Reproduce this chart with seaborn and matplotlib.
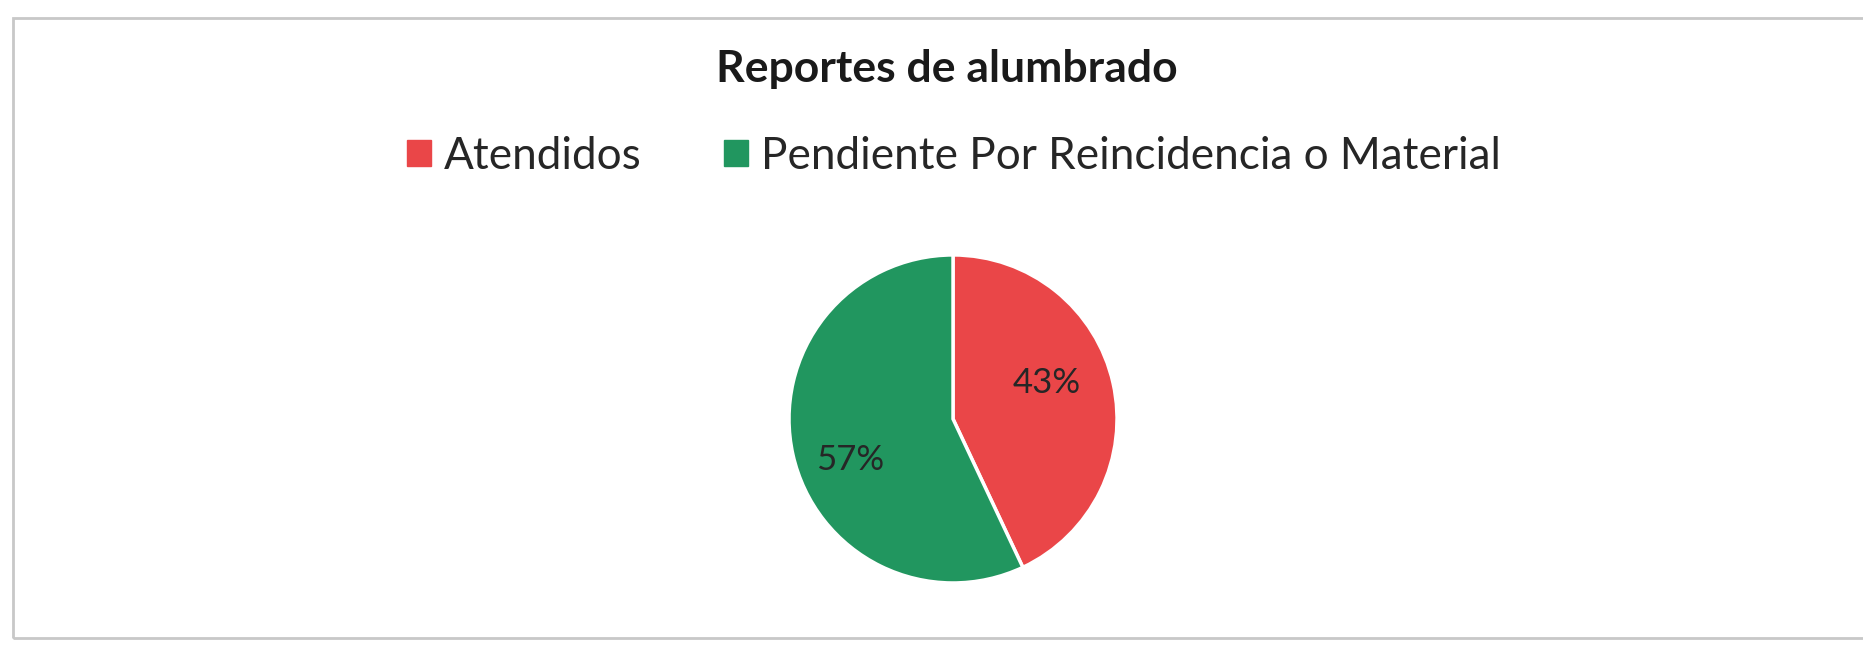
import matplotlib.pyplot as plt
import matplotlib.patches as mpatches
import seaborn as sns

# datos del grafico
categorias = ['Atendidos', 'Pendiente Por Reincidencia o Material']
valores = [43, 57]
colores = ['#EA4648', '#21965F']
titulo = 'Reportes de alumbrado'

sns.set_theme(style='white')
plt.rcParams['font.family'] = ['Lato', 'DejaVu Sans']

fig = plt.figure(figsize=(18.63, 6.45), dpi=100)
fig.patch.set_facecolor('white')

# marco gris del grafico
fig.add_artist(mpatches.Rectangle((13 / 1863, 7 / 645), 1.0, 620 / 645,
                                  transform=fig.transFigure, fill=False,
                                  edgecolor='#c8c8c8', linewidth=2))

ax = fig.add_axes([0.4015, 0.0326, 0.2201, 0.6357])
wedges, textos, pcts = ax.pie(valores, colors=colores, startangle=90,
                              counterclock=False, autopct='%1.0f%%',
                              pctdistance=0.64,
                              wedgeprops=dict(edgecolor='white', linewidth=2.5),
                              textprops=dict(fontsize=25, color='#262626'))
ax.set_aspect('equal')
# posicion de etiquetas tipo Excel (ajuste optimo)
pcts[0].set_position((0.57, 0.22))
pcts[1].set_position((-0.63, -0.25))

fig.text(0.508, 0.893, titulo, ha='center', va='center', fontsize=32,
         fontweight='bold', color='#1a1a1a')

handles = [mpatches.Patch(color=c, label=l) for c, l in zip(colores, categorias)]
fig.legend(handles=handles, loc='center', bbox_to_anchor=(0.512, 0.758),
           ncol=2, frameon=False, fontsize=31.8, handlelength=0.55,
           handleheight=0.55, handletextpad=0.3, columnspacing=1.85,
           labelcolor='#262626')

fig.savefig('out.png', dpi=100, facecolor='white')
